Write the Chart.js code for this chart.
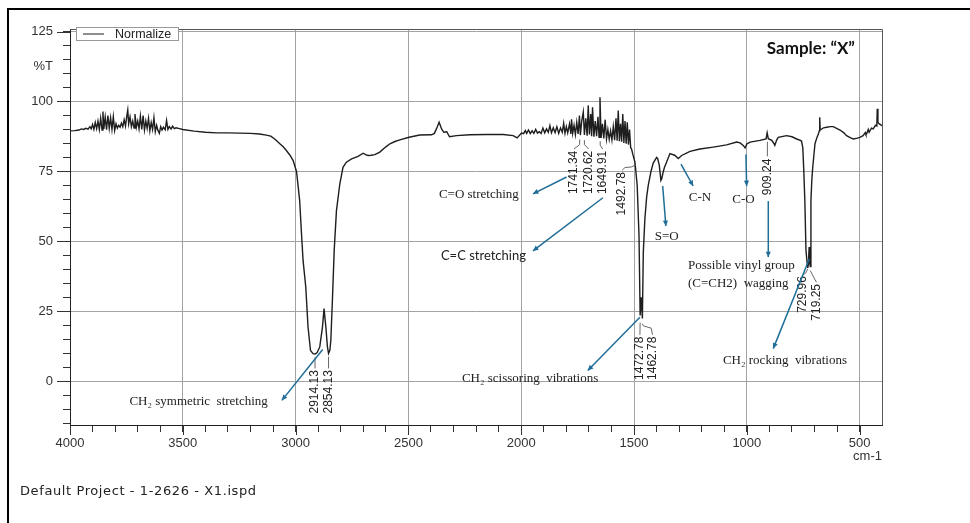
<!DOCTYPE html>
<html>
<head>
<meta charset="utf-8">
<title>FTIR spectrum - Sample X</title>
<script src="https://cdn.jsdelivr.net/npm/chart.js@4.4.1/dist/chart.umd.min.js"></script>
<style>
  html, body { margin: 0; padding: 0; background: #fff; }
  #wrap { position: relative; width: 970px; height: 523px; overflow: hidden; }
  #frame { position: absolute; left: 7px; top: 8px; right: -10px; bottom: -10px; border-left: 2px solid #000; border-top: 2px solid #000; }
  #footer { position: absolute; left: 20px; top: 483px; font: 13px "DejaVu Sans", sans-serif; letter-spacing: 0.6px; color: #222; }
  canvas { position: absolute; left: 0; top: 0; }
</style>
</head>
<body>
<div id="wrap">
  <div id="frame"></div>
  <canvas id="spectrum" width="970" height="523"></canvas>
  <div id="footer">Default Project - 1-2626 - X1.ispd</div>
</div>
<script>
// spectrum (cm-1, %T)
const wavenumber = [
  4000, 3980, 3960, 3950, 3940, 3930, 3920, 3912, 3906, 3900,
  3894, 3888, 3882, 3876, 3870, 3864, 3858, 3854, 3850, 3844,
  3838, 3832, 3826, 3820, 3814, 3808, 3802, 3796, 3790, 3784,
  3778, 3772, 3766, 3760, 3754, 3748, 3744, 3740, 3734, 3728,
  3722, 3716, 3712, 3706, 3700, 3694, 3688, 3682, 3676, 3670,
  3664, 3658, 3652, 3646, 3640, 3634, 3628, 3622, 3616, 3610,
  3604, 3598, 3592, 3586, 3578, 3572, 3566, 3560, 3552, 3545,
  3538, 3530, 3515, 3500, 3450, 3400, 3350, 3300, 3250, 3200,
  3160, 3130, 3110, 3090, 3070, 3055, 3041, 3025, 3011, 2996,
  2982, 2974, 2967, 2955, 2945, 2934, 2923, 2914, 2905, 2893,
  2881, 2874, 2866, 2859, 2854, 2848, 2844, 2837, 2829, 2819,
  2804, 2790, 2775, 2752, 2723, 2701, 2690, 2679, 2665, 2649,
  2627, 2600, 2582, 2560, 2538, 2497, 2450, 2398, 2385, 2376,
  2364, 2353, 2343, 2330, 2318, 2287, 2228, 2154, 2080, 2036,
  2018, 1999, 1990, 1982, 1976, 1968, 1960, 1952, 1944, 1936,
  1928, 1920, 1912, 1904, 1896, 1888, 1880, 1873, 1866, 1858,
  1850, 1842, 1834, 1826, 1818, 1812, 1806, 1800, 1794, 1786,
  1780, 1777, 1772, 1766, 1760, 1754, 1748, 1742, 1738, 1732,
  1725, 1720, 1714, 1708, 1703, 1698, 1692, 1688, 1684, 1678,
  1672, 1666, 1660, 1655, 1651, 1646, 1640, 1634, 1628, 1622,
  1616, 1610, 1604, 1598, 1592, 1586, 1580, 1575, 1570, 1565,
  1560, 1555, 1550, 1545, 1540, 1535, 1530, 1525, 1520, 1515,
  1511, 1505, 1496, 1486, 1478, 1473, 1468, 1463, 1459, 1452,
  1444, 1437, 1425, 1415, 1400, 1395, 1388, 1381, 1377, 1371,
  1365, 1359, 1341, 1320, 1304, 1289, 1252, 1208, 1149, 1090,
  1045, 1030, 1016, 1008, 1000, 986, 942, 915, 910, 905,
  890, 880, 876, 868, 861, 824, 800, 779, 760, 757,
  752, 748, 743, 738, 732, 730, 727, 724, 722, 719,
  716, 712, 708, 698, 690, 683, 679, 677, 675, 660,
  646, 630, 617, 600, 587, 570, 558, 540, 528, 510,
  499, 485, 475, 472, 469, 462, 458, 448, 440, 430,
  424, 422, 419, 413, 401
];
const transmittance = [
  89.5, 89.6, 89.8, 90.2, 90.0, 90.4, 90.1, 91.0, 90.2, 91.8,
  90.0, 92.5, 90.3, 93.0, 90.0, 94.0, 89.8, 96.4, 90.2, 94.5,
  89.9, 95.0, 90.4, 94.2, 90.0, 94.6, 89.6, 92.0, 90.5, 91.5,
  90.8, 92.3, 91.0, 93.5, 91.2, 95.0, 97.0, 92.0, 94.5, 91.0,
  93.0, 90.5, 95.5, 90.8, 93.0, 90.2, 94.8, 90.0, 95.0, 89.8,
  93.0, 90.4, 94.0, 89.5, 92.5, 90.0, 94.2, 89.2, 91.5, 89.6,
  88.6, 91.0, 89.8, 90.8, 89.9, 93.2, 90.0, 91.0, 90.2, 91.2,
  90.3, 90.6, 90.3, 90.0, 89.4, 89.0, 88.8, 88.8, 88.7, 88.6,
  88.4, 88.0, 87.6, 86.4, 84.9, 83.8, 82.5, 80.8, 78.9, 75.0,
  64.6, 52.8, 43.2, 33.7, 19.4, 11.0, 9.9, 9.8, 10.2, 12.3,
  19.4, 26.0, 19.4, 12.3, 10.0, 11.2, 14.6, 28.9, 46.8, 61.0,
  70.6, 76.5, 78.3, 79.5, 80.4, 81.5, 81.0, 80.7, 80.8, 81.0,
  81.9, 83.8, 84.9, 85.7, 86.3, 87.2, 88.0, 88.1, 88.6, 90.2,
  92.6, 90.2, 89.0, 89.2, 87.4, 87.8, 88.1, 88.2, 88.2, 87.8,
  87.0, 88.7, 88.5, 89.6, 88.6, 89.8, 88.5, 89.5, 88.6, 90.0,
  88.7, 89.2, 88.6, 90.5, 88.8, 90.2, 89.0, 91.4, 88.8, 90.6,
  88.9, 91.0, 88.6, 90.5, 89.0, 92.2, 88.6, 91.0, 88.8, 92.0,
  88.4, 93.6, 88.6, 91.5, 88.2, 92.5, 88.4, 95.0, 88.0, 93.0,
  96.2, 88.0, 94.0, 87.8, 98.6, 88.2, 95.5, 87.6, 97.9, 87.4,
  93.0, 87.6, 94.5, 87.2, 101.5, 87.0, 92.0, 86.8, 93.5, 86.6,
  90.0, 86.5, 89.5, 86.3, 91.0, 86.2, 94.0, 86.0, 96.8, 85.8,
  92.0, 85.6, 95.5, 85.2, 93.0, 84.9, 92.6, 84.6, 90.0, 83.5,
  83.0, 81.0, 78.3, 70.0, 52.0, 23.5, 30.0, 22.5, 46.0, 58.0,
  66.0, 70.0, 75.0, 78.0, 80.0, 79.6, 77.1, 71.8, 72.5, 74.8,
  76.5, 77.7, 81.4, 80.8, 79.6, 80.7, 82.2, 83.0, 83.7, 84.5,
  85.5, 85.2, 84.3, 83.4, 84.8, 85.5, 86.1, 86.6, 88.8, 86.7,
  86.1, 85.0, 84.3, 86.2, 87.2, 87.8, 87.4, 86.6, 86.0, 85.5,
  83.5, 76.0, 64.6, 46.8, 41.5, 40.5, 42.0, 48.0, 43.0, 41.0,
  64.6, 72.0, 76.5, 84.9, 87.0, 88.4, 89.5, 94.4, 89.8, 90.6,
  90.8, 91.0, 91.0, 90.3, 89.8, 88.8, 87.8, 87.0, 86.6, 86.9,
  87.2, 87.8, 88.9, 88.2, 88.4, 90.0, 89.0, 90.5, 90.2, 91.5,
  91.2, 97.4, 92.5, 92.0, 91.4
];

// axis ticks
const xTickValues = [];
for (let v = 4000; v >= 500; v -= 100) xTickValues.push(v);
const yTickValues = [-15, -10, -5, 0, 5, 10, 15, 20, 25, 30, 35, 40, 45, 50, 55, 60, 65, 70,
  75, 80, 85, 90, 95, 100, 105, 110, 112.5, 115, 120, 125];
const yUnitTick = 112.5;
const xUnit = 'cm-1';

// peak labels: text, leader line points and label top, in (cm-1, %T)
const peakLabels = [
  { text: '2914.13', leader: [[2914, 8.6], [2914, 4.6]], top: [2914, 4.0] },
  { text: '2854.13', leader: [[2854, 8.8], [2854, 4.6]], top: [2854, 4.0] },
  { text: '1741.34', leader: [[1741, 86.4], [1741, 84.6], [1766, 83.0]], top: [1767, 82.4] },
  { text: '1720.62', leader: [[1720, 86.2], [1720, 84.6], [1701, 83.0]], top: [1700, 82.4] },
  { text: '1649.91', leader: [[1650, 85.8], [1650, 84.4], [1639, 83.0]], top: [1638, 82.4] },
  { text: '1492.78', leader: [[1492, 77.4], [1512, 76.6], [1540, 76.4], [1553, 75.4]], top: [1554, 74.8] },
  { text: '1472.78', leader: [[1473, 21.0], [1474, 16.6]], top: [1476, 16.0] },
  { text: '1462.78', leader: [[1463, 20.6], [1458, 19.8], [1424, 19.0], [1418, 16.6]], top: [1416, 16.0] },
  { text: '909.24', leader: [[909, 85.6], [909, 80.4]], top: [909, 79.6] },
  { text: '729.96', leader: [[730, 40.2], [740, 38.6], [750, 38.2]], top: [751, 37.6] },
  { text: '719.25', leader: [[719, 39.6], [700, 36.6], [691, 35.4]], top: [689, 34.8] }
];

// band assignments with arrows, in (cm-1, %T)
const bandNotes = [
  { lines: ['CH\u2082 symmetric  stretching'], at: [3123, -7.1], align: 'right', serif: true, from: [2880, 11.4], to: [3061, -6.8] },
  { lines: ['C=O stretching'], at: [2365, 66.6], align: 'left', serif: true, from: [1799, 73.0], to: [1948, 67.0] },
  { lines: ['C=C stretching'], at: [2356, 44.8], align: 'left', serif: false, from: [1638, 65.6], to: [1948, 46.6] },
  { lines: ['CH\u2082 scissoring  vibrations'], at: [2263, 1.1], align: 'left', serif: true, from: [1474, 22.9], to: [1705, 3.9] },
  { lines: ['S=O'], at: [1355, 51.6], align: 'center', serif: true, from: [1373, 69.8], to: [1359, 55.5] },
  { lines: ['C-N'], at: [1208, 65.8], align: 'center', serif: true, from: [1292, 77.6], to: [1238, 69.8] },
  { lines: ['C-O'], at: [1015, 64.8], align: 'center', serif: true, from: [1004, 81.1], to: [1001, 69.8] },
  { lines: ['Possible vinyl group', '(C=CH2)  wagging'], at: [1261, 41.2], align: 'left', serif: true, from: [905, 64.4], to: [905, 44.4] },
  { lines: ['CH\u2082 rocking  vibrations'], at: [1106, 7.4], align: 'left', serif: true, from: [723, 43.8], to: [883, 11.7] }
];

const sampleName = 'Sample: \u201cX\u201d';
const sampleAt = [521, 118.9];

const sansFont = '"Liberation Sans", Arial, sans-serif';
const serifFont = '"Liberation Serif", "Times New Roman", serif';
const arrowColor = '#1f6d97';

function drawArrow(c, x1, y1, x2, y2) {
  c.beginPath();
  c.moveTo(x1, y1);
  c.lineTo(x2, y2);
  c.stroke();
  const a = Math.atan2(y2 - y1, x2 - x1), h = 6;
  c.beginPath();
  c.moveTo(x2, y2);
  c.lineTo(x2 - h * Math.cos(a - 0.45), y2 - h * Math.sin(a - 0.45));
  c.lineTo(x2 - h * Math.cos(a + 0.45), y2 - h * Math.sin(a + 0.45));
  c.closePath();
  c.fill();
}

const decorations = {
  id: 'decorations',
  afterDatasetsDraw(chart) {
    const c = chart.ctx;
    const xs = chart.scales.x, ys = chart.scales.y;
    const px = w => xs.getPixelForValue(w);
    const py = t => ys.getPixelForValue(t);
    const area = chart.chartArea;
    c.save();

    // top and right frame of the plot
    c.strokeStyle = '#555';
    c.lineWidth = 1;
    c.beginPath();
    c.moveTo(area.left, area.top + 0.5);
    c.lineTo(area.right + 0.5, area.top + 0.5);
    c.lineTo(area.right + 0.5, area.bottom);
    c.stroke();

    // longer marks on the labelled ticks
    c.strokeStyle = '#333';
    c.beginPath();
    xTickValues.filter(v => v % 500 === 0).forEach(v => {
      const x = Math.round(px(v)) + 0.5;
      c.moveTo(x, area.bottom);
      c.lineTo(x, area.bottom + 10);
    });
    yTickValues.filter(v => v % 25 === 0).forEach(v => {
      const y = Math.round(py(v)) + 0.5;
      c.moveTo(area.left - 13, y);
      c.lineTo(area.left, y);
    });
    c.stroke();

    // unit under the last x label
    c.fillStyle = '#333';
    c.font = '13px ' + sansFont;
    c.textAlign = 'right';
    c.textBaseline = 'middle';
    c.fillText(xUnit, area.right, area.bottom + 31);

    // peak labels
    c.strokeStyle = '#666';
    c.fillStyle = '#222';
    c.font = '12px ' + sansFont;
    peakLabels.forEach(p => {
      c.beginPath();
      p.leader.forEach((pt, i) => {
        const x = px(pt[0]), y = py(pt[1]);
        if (i === 0) c.moveTo(x, y); else c.lineTo(x, y);
      });
      c.stroke();
      c.save();
      c.translate(px(p.top[0]), py(p.top[1]));
      c.rotate(-Math.PI / 2);
      c.textAlign = 'right';
      c.textBaseline = 'middle';
      c.fillText(p.text, 0, 0);
      c.restore();
    });

    // band assignments
    bandNotes.forEach(n => {
      c.strokeStyle = arrowColor;
      c.fillStyle = arrowColor;
      c.lineWidth = 1.5;
      drawArrow(c, px(n.from[0]), py(n.from[1]), px(n.to[0]), py(n.to[1]));
      c.fillStyle = '#222';
      c.font = n.serif ? '13px ' + serifFont : '13px Lato, ' + sansFont;
      c.textAlign = n.align;
      c.textBaseline = 'middle';
      n.lines.forEach((line, i) => {
        c.fillText(line, px(n.at[0]), py(n.at[1]) + i * 18);
      });
    });

    // sample name
    c.fillStyle = '#111';
    c.font = 'bold 17px Lato, ' + sansFont;
    c.textAlign = 'right';
    c.textBaseline = 'middle';
    c.fillText(sampleName, px(sampleAt[0]), py(sampleAt[1]));

    // legend box
    const ds = chart.data.datasets[0];
    const lx = area.left + 6, ly = area.top - 2;
    c.fillStyle = '#fff';
    c.fillRect(lx, ly, 102, 13);
    c.strokeStyle = '#999';
    c.lineWidth = 1;
    c.strokeRect(lx + 0.5, ly + 0.5, 102, 13);
    c.strokeStyle = ds.borderColor;
    c.beginPath();
    c.moveTo(lx + 7, ly + 7);
    c.lineTo(lx + 28, ly + 7);
    c.stroke();
    c.fillStyle = '#222';
    c.font = '12.5px ' + sansFont;
    c.textAlign = 'left';
    c.fillText(ds.label, lx + 39, ly + 7.5);

    c.restore();
  }
};

const ctx = document.getElementById('spectrum').getContext('2d');
new Chart(ctx, {
  type: 'line',
  data: {
    datasets: [{
      label: 'Normalize',
      data: wavenumber.map((w, i) => ({ x: w, y: transmittance[i] })),
      borderColor: '#1e1e1e',
      borderWidth: 1.4,
      pointRadius: 0,
      tension: 0,
      fill: false
    }]
  },
  options: {
    responsive: false,
    animation: false,
    layout: { padding: { left: 8, right: 88, top: 29, bottom: 60 } },
    plugins: {
      legend: { display: false },
      tooltip: { enabled: false }
    },
    scales: {
      x: {
        type: 'linear',
        reverse: true,
        min: 401,
        max: 4000,
        afterBuildTicks: s => { s.ticks = xTickValues.map(v => ({ value: v })); },
        afterFit: s => { s.height = 38; },
        ticks: {
          autoSkip: false,
          maxRotation: 0,
          padding: 4,
          color: '#333',
          font: { family: sansFont, size: 13 },
          callback: v => (v % 500 === 0 ? String(v) : '')
        },
        grid: {
          color: c => (c.tick && c.tick.value % 500 === 0 && c.tick.value !== 4000 ? '#a3a3a3' : 'transparent'),
          tickColor: '#333',
          tickLength: 7
        },
        border: { color: '#222', width: 1 }
      },
      y: {
        min: -15.6,
        max: 125.9,
        afterBuildTicks: s => { s.ticks = yTickValues.map(v => ({ value: v })); },
        afterFit: s => { s.width = 62; },
        ticks: {
          autoSkip: false,
          padding: 10,
          color: '#333',
          font: { family: sansFont, size: 13 },
          callback: v => (v === yUnitTick ? '%T' : (v % 25 === 0 ? String(v) : ''))
        },
        grid: {
          color: c => (c.tick && c.tick.value % 25 === 0 && c.tick.value !== -15 ? '#a3a3a3' : 'transparent'),
          tickColor: c => (c.tick && c.tick.value === yUnitTick ? 'transparent' : '#333'),
          tickLength: 7
        },
        border: { color: '#222', width: 1 }
      }
    }
  },
  plugins: [decorations]
});
</script>
</body>
</html>
